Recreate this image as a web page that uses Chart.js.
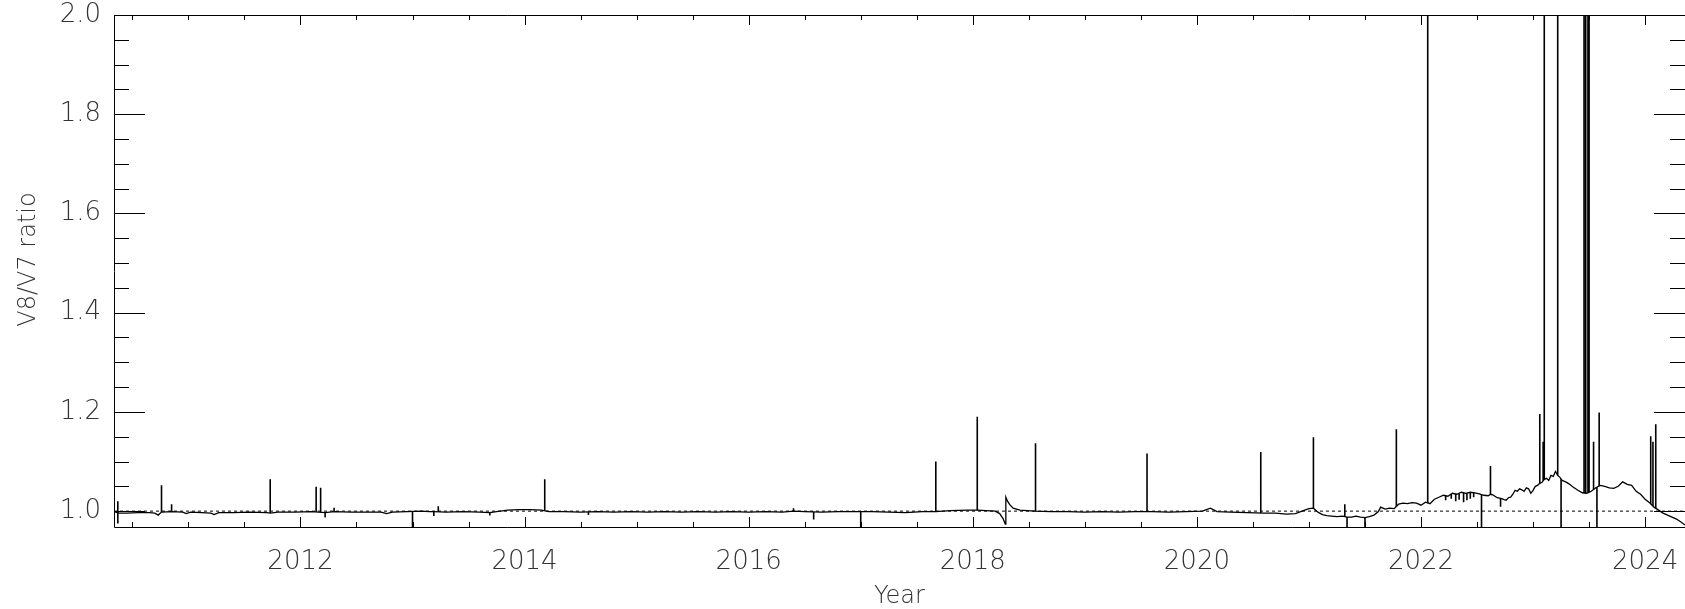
<!DOCTYPE html>
<html>
<head>
<meta charset="utf-8">
<title>V8/V7 ratio</title>
<script src="https://cdn.jsdelivr.net/npm/chart.js@4.4.1/dist/chart.umd.min.js"></script>
<style>
  body { margin: 0; background: #fff; }
</style>
</head>
<body>
<canvas id="ratioChart" width="1685" height="609"></canvas>
<script>
// ratio curve up to 2021 (year, V8/V7)
var yearsEarly = [
  2010.336, 2010.38, 2010.45, 2010.55, 2010.65, 2010.70, 2010.73, 2010.76, 2010.85, 2010.95,
  2010.98, 2011.02, 2011.12, 2011.20, 2011.23, 2011.27, 2011.40, 2011.55, 2011.70, 2011.73,
  2011.80, 2011.95, 2012.10, 2012.22, 2012.30, 2012.45, 2012.60, 2012.72, 2012.77, 2012.82,
  2012.95, 2013.08, 2013.15, 2013.19, 2013.30, 2013.45, 2013.60, 2013.69, 2013.75, 2013.85,
  2013.95, 2014.05, 2014.15, 2014.22, 2014.35, 2014.50, 2014.65, 2014.80, 2014.95, 2015.10,
  2015.25, 2015.40, 2015.55, 2015.70, 2015.85, 2016.00, 2016.15, 2016.30, 2016.40, 2016.50,
  2016.65, 2016.80, 2016.95, 2017.10, 2017.25, 2017.40, 2017.55, 2017.67, 2017.80, 2017.95,
  2018.04, 2018.12, 2018.20, 2018.24, 2018.27, 2018.29, 2018.295, 2018.31, 2018.33, 2018.36,
  2018.42, 2018.55, 2018.70, 2018.85, 2019.00, 2019.15, 2019.30, 2019.45, 2019.60, 2019.75,
  2019.90, 2020.05, 2020.12, 2020.18, 2020.30, 2020.45, 2020.60, 2020.70, 2020.80, 2020.88,
  2020.95
];
var ratioEarly = [
  0.999, 0.996, 0.996, 0.997, 0.997, 0.996, 0.992, 0.998, 0.999, 0.998,
  0.995, 0.998, 0.997, 0.996, 0.993, 0.997, 0.997, 0.998, 0.997, 0.996,
  0.998, 0.998, 0.999, 0.997, 0.999, 0.998, 0.998, 0.998, 0.995, 0.998,
  0.999, 1.000, 0.999, 0.999, 0.998, 0.999, 0.998, 0.997, 0.999, 1.002,
  1.003, 1.003, 1.002, 0.999, 0.999, 0.998, 0.999, 0.998, 0.999, 0.998,
  0.999, 0.998, 0.999, 0.998, 0.999, 0.998, 0.999, 0.998, 1.000, 0.999,
  0.998, 0.999, 0.999, 0.999, 0.998, 0.997, 0.999, 0.999, 1.001, 1.002,
  1.002, 1.001, 1.000, 0.995, 0.985, 0.974, 1.028, 1.020, 1.013, 1.006,
  1.002, 1.000, 0.999, 0.999, 0.998, 0.999, 0.998, 0.999, 0.999, 0.998,
  0.999, 1.000, 1.006, 0.999, 0.998, 0.997, 0.996, 0.996, 0.994, 0.995,
  1.001
];

// ratio curve from 2021 on
var yearsLate = [
  2021.00, 2021.04, 2021.08, 2021.12, 2021.16, 2021.20, 2021.25, 2021.30, 2021.34, 2021.38,
  2021.42, 2021.46, 2021.50, 2021.54, 2021.58, 2021.62, 2021.64, 2021.68, 2021.72, 2021.76,
  2021.80, 2021.84, 2021.88, 2021.92, 2021.96, 2022.00, 2022.04, 2022.08, 2022.12, 2022.16,
  2022.20, 2022.24, 2022.28, 2022.32, 2022.36, 2022.40, 2022.44, 2022.48, 2022.52, 2022.56,
  2022.60, 2022.62, 2022.64, 2022.66, 2022.68, 2022.70, 2022.72, 2022.74, 2022.76, 2022.78,
  2022.80, 2022.82, 2022.84, 2022.86, 2022.88, 2022.90, 2022.92, 2022.94, 2022.96, 2022.98,
  2023.00, 2023.02, 2023.04, 2023.06, 2023.08, 2023.10, 2023.12, 2023.14, 2023.16, 2023.18,
  2023.20, 2023.22, 2023.24, 2023.26, 2023.28, 2023.30, 2023.32, 2023.36, 2023.40, 2023.44,
  2023.48, 2023.52, 2023.56, 2023.60, 2023.64, 2023.68, 2023.72, 2023.76, 2023.80, 2023.84,
  2023.88, 2023.92, 2023.96, 2024.00, 2024.04, 2024.08, 2024.12, 2024.16, 2024.20, 2024.24,
  2024.28, 2024.32, 2024.356
];
var ratioLate = [
  1.005, 1.006, 0.998, 0.993, 0.991, 0.990, 0.989, 0.990, 0.988, 0.988,
  0.990, 0.988, 0.987, 0.989, 0.992, 0.999, 1.008, 1.004, 1.006, 1.005,
  1.014, 1.016, 1.015, 1.017, 1.016, 1.012, 1.018, 1.015, 1.024, 1.028,
  1.032, 1.030, 1.036, 1.034, 1.038, 1.036, 1.038, 1.037, 1.035, 1.032,
  1.031, 1.034, 1.033, 1.030, 1.027, 1.026, 1.025, 1.023, 1.022, 1.027,
  1.028, 1.034, 1.042, 1.040, 1.045, 1.043, 1.040, 1.047, 1.045, 1.036,
  1.042, 1.050, 1.052, 1.056, 1.058, 1.064, 1.066, 1.062, 1.072, 1.070,
  1.080, 1.072, 1.068, 1.062, 1.060, 1.058, 1.055, 1.048, 1.042, 1.037,
  1.036, 1.040, 1.047, 1.052, 1.050, 1.047, 1.046, 1.050, 1.059, 1.054,
  1.052, 1.040, 1.034, 1.024, 1.017, 1.008, 1.002, 0.996, 0.992, 0.988,
  0.984, 0.978, 0.972
];

// single-sample outliers (year, tip value); tips above 2.0 or below 0.968 run off the plot
var spikeYears = [
  2010.37, 2010.37, 2010.76, 2010.85, 2011.73, 2012.14, 2012.18, 2012.22, 2012.30, 2013.00,
  2013.19, 2013.23, 2013.69, 2014.18, 2014.57, 2016.40, 2016.58, 2017.00, 2017.67, 2018.04,
  2018.56, 2019.555, 2020.57, 2021.04, 2021.32, 2021.34, 2021.50, 2021.78, 2022.06, 2022.22,
  2022.27, 2022.31, 2022.34, 2022.38, 2022.41, 2022.44, 2022.47, 2022.54, 2022.62, 2022.71,
  2023.06, 2023.09, 2023.10, 2023.22, 2023.25, 2023.455, 2023.47, 2023.49, 2023.50, 2023.54,
  2023.57, 2023.59, 2024.05, 2024.07, 2024.095
];
var spikeTips = [
  1.020, 0.975, 1.052, 1.014, 1.064, 1.049, 1.047, 0.987, 1.007, 0.90,
  0.990, 1.010, 0.991, 1.064, 0.992, 1.006, 0.983, 0.90, 1.100, 1.190,
  1.137, 1.116, 1.119, 1.149, 1.014, 0.90, 0.90, 1.165, 2.5, 1.022,
  1.025, 1.020, 1.023, 1.018, 1.022, 1.025, 1.028, 0.90, 1.091, 1.009,
  1.196, 1.140, 2.5, 2.5, 0.90, 2.5, 2.5, 2.5, 2.5, 1.140,
  0.90, 1.199, 1.151, 1.140, 1.175
];

// axes
var xMin = 2010.336, xMax = 2024.356;
var yMin = 0.968, yMax = 2.0;
var xTickYears = [2012, 2014, 2016, 2018, 2020, 2022, 2024];
var yTickValues = [1.0, 1.2, 1.4, 1.6, 1.8, 2.0];

var years = yearsEarly.concat(yearsLate);
var ratio = ratioEarly.concat(ratioLate);

// line value at a given year, used as the foot of each spike
function baseAt(t) {
    for (var i = 1; i < years.length; i++) {
        if (years[i] >= t) {
            var f = (t - years[i - 1]) / (years[i] - years[i - 1]);
            return ratio[i - 1] + f * (ratio[i] - ratio[i - 1]);
        }
    }
    return ratio[ratio.length - 1];
}

var curve = [];
for (var i = 0; i < years.length; i++) {
    curve.push({ x: years[i], y: ratio[i] });
}

var spikes = [];
for (var j = 0; j < spikeYears.length; j++) {
    spikes.push({ x: spikeYears[j], y: baseAt(spikeYears[j]) });
    spikes.push({ x: spikeYears[j], y: spikeTips[j] });
    spikes.push({ x: spikeYears[j], y: null });
}

// IDL style frame: inward ticks on all four sides
var framePlugin = {
    id: 'frame',
    afterDatasetsDraw: function (chart) {
        var ctx = chart.ctx;
        var a = chart.chartArea;
        var xs = chart.scales.x, ys = chart.scales.y;
        ctx.save();
        ctx.strokeStyle = '#000';
        ctx.lineWidth = 1;
        ctx.beginPath();
        ctx.rect(a.left + 0.5, a.top + 0.5, a.right - a.left, a.bottom - a.top);
        ctx.stroke();

        ctx.beginPath();
        for (var yr = 2010.5; yr <= xMax; yr += 0.5) {
            var px = Math.round(xs.getPixelForValue(yr)) + 0.5;
            var major = Math.abs(yr / 2 - Math.round(yr / 2)) < 1e-6;
            var len = major ? 10 : 5;
            ctx.moveTo(px, a.bottom);
            ctx.lineTo(px, a.bottom - len);
            ctx.moveTo(px, a.top);
            ctx.lineTo(px, a.top + len);
        }
        for (var k = 0; k <= 20; k++) {
            var v = 1.0 + k * 0.05;
            var py = Math.round(ys.getPixelForValue(v)) + 0.5;
            var ylen = (k % 4 === 0) ? 31 : 15;
            ctx.moveTo(a.left, py);
            ctx.lineTo(a.left + ylen, py);
            ctx.moveTo(a.right, py);
            ctx.lineTo(a.right - ylen, py);
        }
        ctx.stroke();
        ctx.restore();
    }
};

var labelFont = { family: '"DejaVu Sans", sans-serif', size: 26, weight: 200 };
var titleFont = { family: '"DejaVu Sans", sans-serif', size: 24, weight: 200 };

var ctx = document.getElementById('ratioChart').getContext('2d');
var chart = new Chart(ctx, {
    type: 'line',
    data: {
        datasets: [{
            // reference level
            data: [{ x: xMin, y: 1.0 }, { x: xMax, y: 1.0 }],
            borderColor: '#000',
            borderWidth: 1,
            borderDash: [3, 3],
            pointRadius: 0,
            clip: 0
        }, {
            data: curve,
            borderColor: '#000',
            borderWidth: 1.3,
            pointRadius: 0,
            tension: 0,
            clip: 0
        }, {
            data: spikes,
            borderColor: '#000',
            borderWidth: 1.6,
            pointRadius: 0,
            spanGaps: false,
            clip: 0
        }]
    },
    options: {
        responsive: false,
        animation: false,
        layout: { padding: { top: 15, right: 0, bottom: 0, left: 0 } },
        plugins: { legend: { display: false }, tooltip: { enabled: false } },
        scales: {
            x: {
                type: 'linear',
                min: xMin,
                max: xMax,
                grid: { display: false, drawTicks: false },
                border: { display: false },
                afterBuildTicks: function (s) {
                    s.ticks = xTickYears.map(function (v) { return { value: v }; });
                },
                afterFit: function (s) {
                    s.height = 82;
                    s.paddingLeft = 0;
                    s.paddingRight = 0;
                },
                ticks: {
                    font: labelFont,
                    color: '#333',
                    padding: 20,
                    maxRotation: 0,
                    callback: function (v) { return String(v); }
                },
                title: {
                    display: true,
                    text: 'Year',
                    font: titleFont,
                    color: '#333',
                    padding: { top: 0, bottom: -2 }
                }
            },
            y: {
                min: yMin,
                max: yMax,
                grid: { display: false, drawTicks: false },
                border: { display: false },
                afterBuildTicks: function (s) {
                    s.ticks = yTickValues.map(function (v) { return { value: v }; });
                },
                afterFit: function (s) {
                    s.width = 114;
                    s.paddingTop = 0;
                    s.paddingBottom = 0;
                },
                ticks: {
                    font: labelFont,
                    color: '#333',
                    padding: 13,
                    callback: function (v) { return v.toFixed(1); }
                },
                title: {
                    display: true,
                    // leading spaces nudge the label a little above the axis middle, as in the original
                    text: '   V8/V7 ratio',
                    font: titleFont,
                    color: '#333',
                    padding: { top: 14, bottom: 0 }
                }
            }
        }
    },
    plugins: [framePlugin]
});
</script>
</body>
</html>
